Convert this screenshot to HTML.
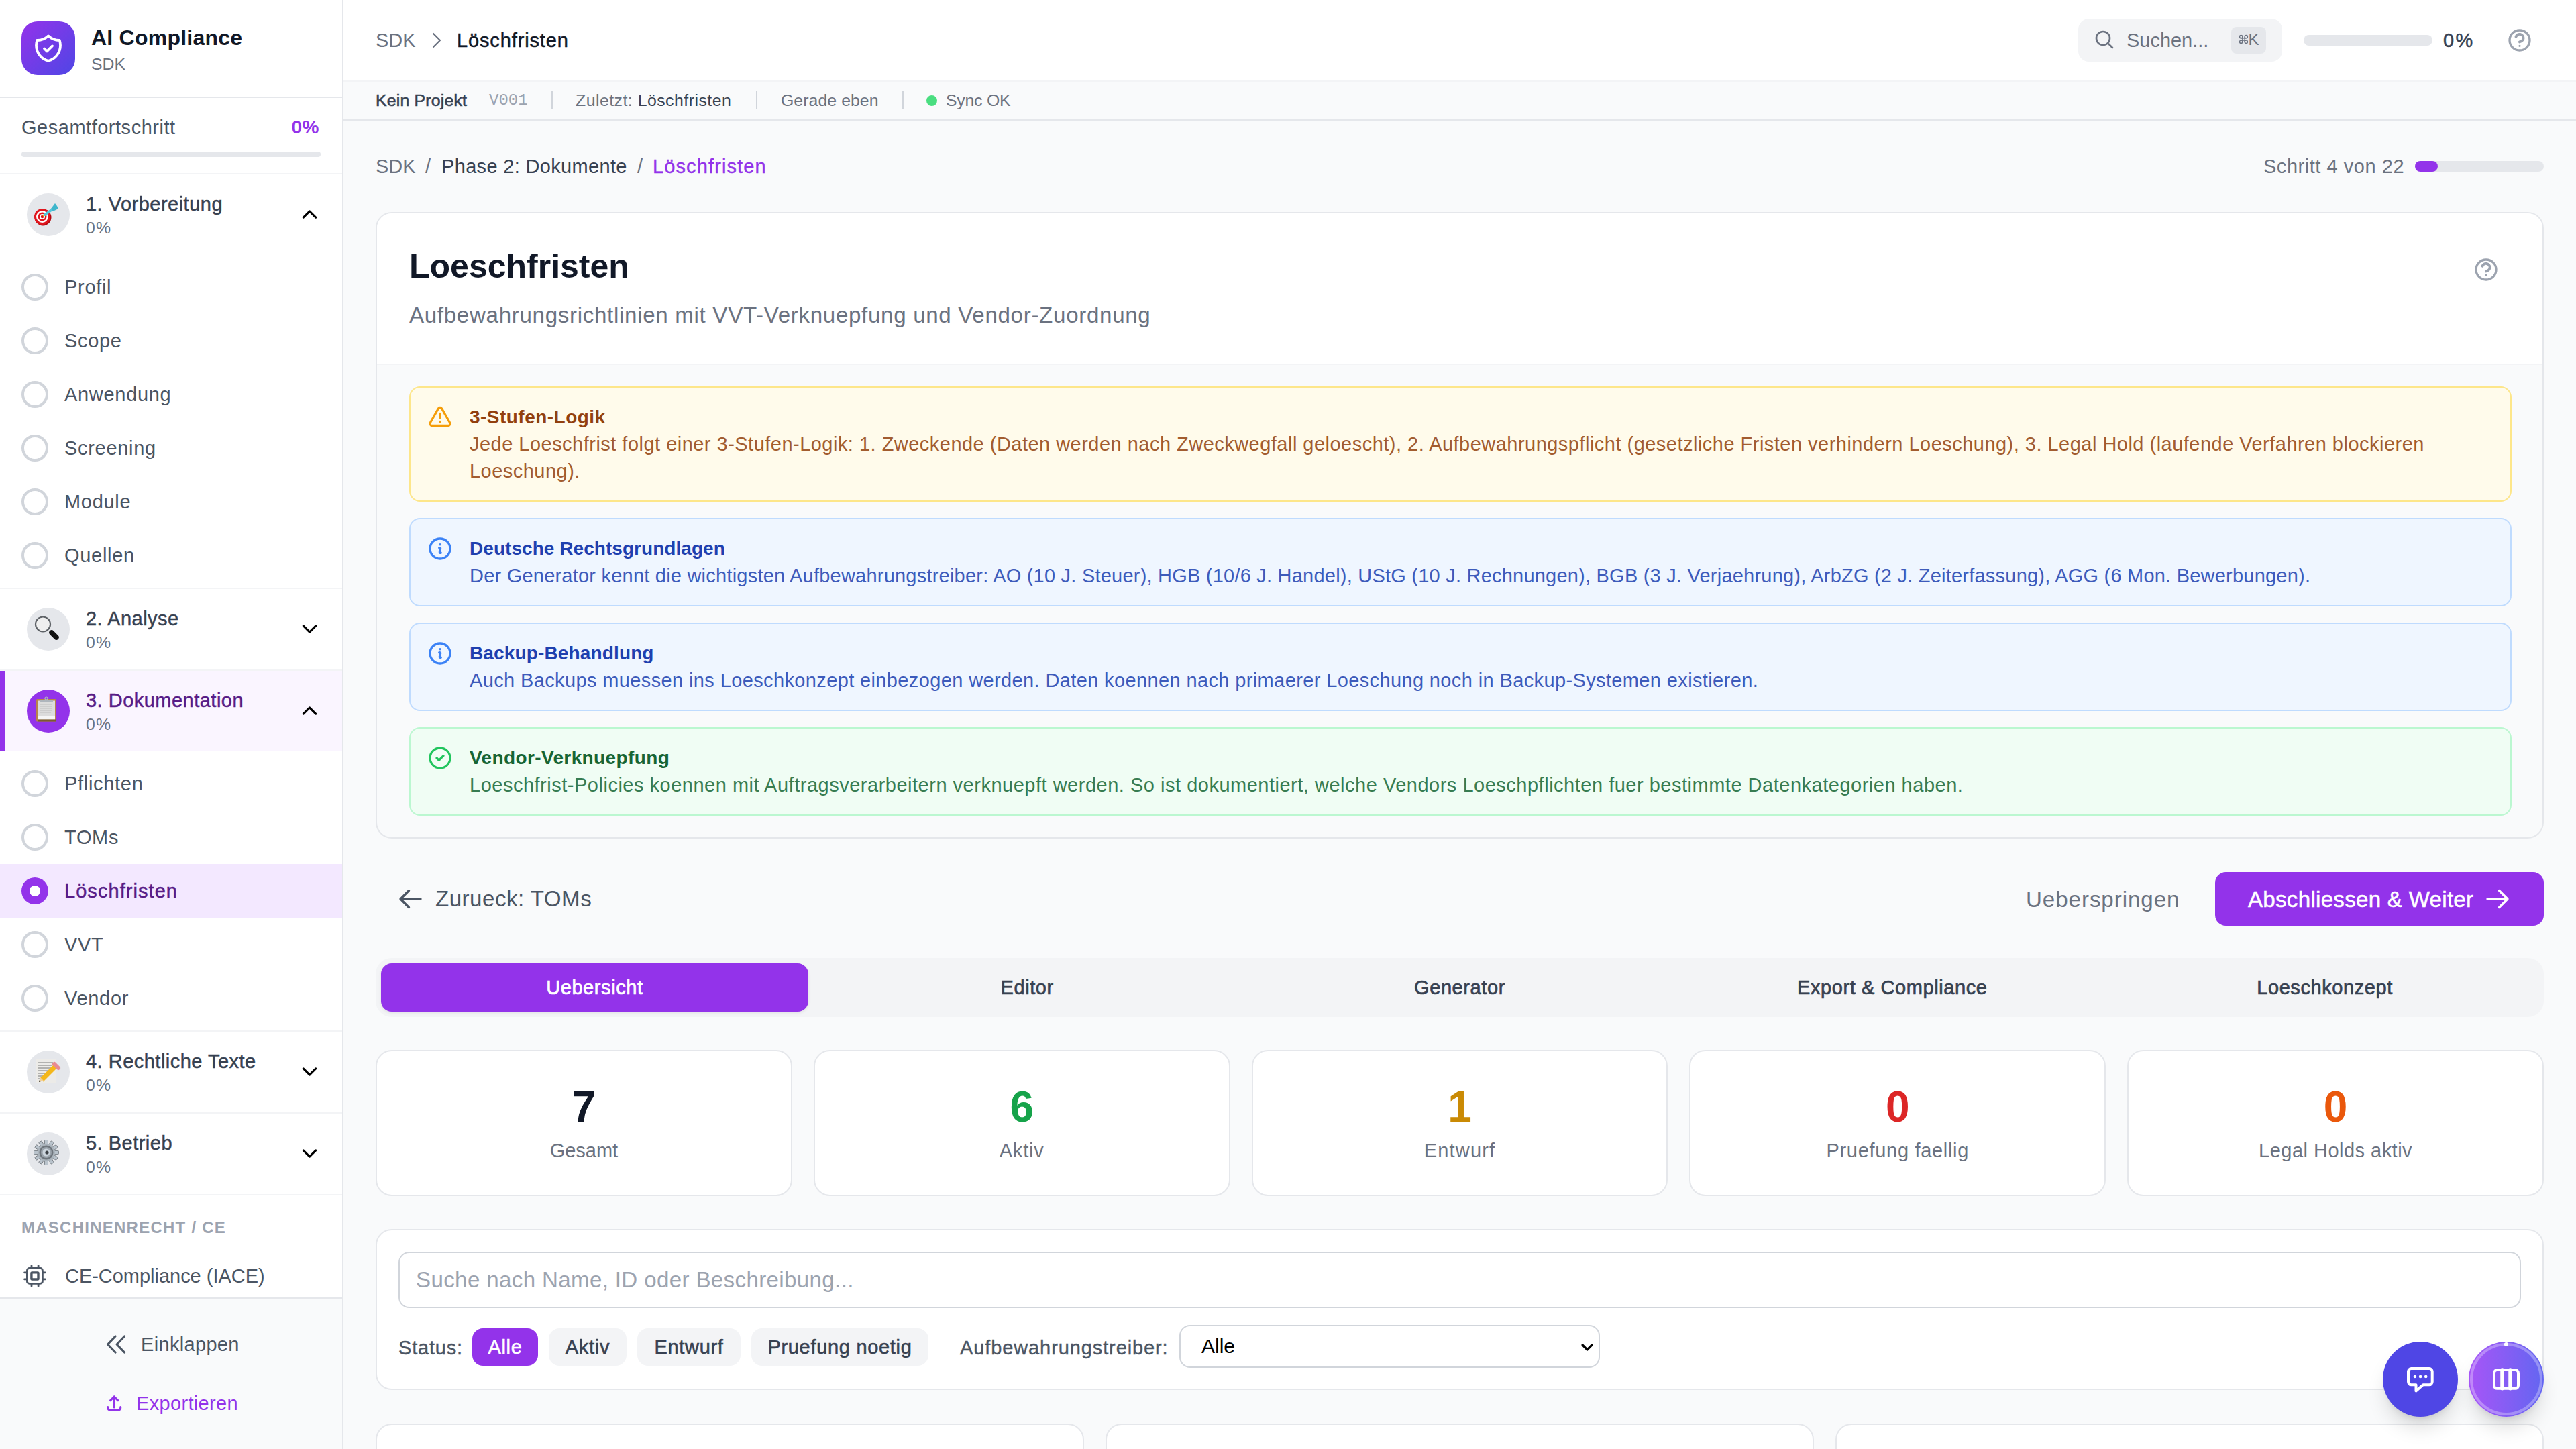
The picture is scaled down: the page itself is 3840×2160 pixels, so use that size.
<!DOCTYPE html>
<html lang="de">
<head>
<meta charset="utf-8">
<title>Loeschfristen</title>
<style>
*{box-sizing:border-box;margin:0;padding:0}
html,body{width:3840px;height:2160px;overflow:hidden}
@media (max-width:2500px){html{zoom:0.5}}
body{font-family:"Liberation Sans",sans-serif;background:#f9fafb;color:#111827;position:relative;letter-spacing:0.03em}
.abs{position:absolute}
svg{display:block}
.t{position:absolute;white-space:nowrap}
/* sidebar */
#sb{position:absolute;left:0;top:0;width:512px;height:2160px;background:#fff;border-right:2px solid #e5e7eb}
.hl{position:absolute;left:0;width:510px;height:2px;background:#f3f4f6}
.sec-ic{position:absolute;left:40px;width:64px;height:64px;border-radius:50%;background:#e5e7eb}
.sec-t{position:absolute;left:128px;font-size:28.98px;line-height:40px;color:#374151;white-space:nowrap;letter-spacing:0.5px;-webkit-text-stroke:0.5px currentColor}
.sec-p{position:absolute;left:128px;font-size:24.84px;line-height:32px;color:#6b7280;white-space:nowrap;letter-spacing:1.08px}
.chev{position:absolute;left:443px;width:37px;height:37px}
.sub{position:absolute;left:0;width:510px;height:80px}
.sub .c{position:absolute;left:32px;top:20px;width:40px;height:40px;border-radius:50%;border:4px solid #d1d5db}
.sub .l{position:absolute;left:96px;top:20px;font-size:28.98px;line-height:40px;color:#4b5563;white-space:nowrap;letter-spacing:0.71px}
/* main */
#hdr{position:absolute;left:512px;top:0;width:3328px;height:122px;background:#fff;border-bottom:2px solid #f3f4f6}
#stb{position:absolute;left:512px;top:122px;width:3328px;height:58px;background:#f9fafb;border-bottom:2px solid #e5e7eb}

.alert{position:absolute;left:48px;width:3134px;border:2px solid;border-radius:16px}
.alert .ic{position:absolute;left:24px;top:24px;width:40px;height:40px}
.alert .ic.tri{left:26px;top:24.5px;width:36px;height:36px}
.alert .at{position:absolute;left:88px;top:24px;font-size:28px;line-height:40px;white-space:nowrap;font-weight:700;letter-spacing:0.2px}
.alert .ab{position:absolute;left:88px;top:64px;font-size:28.98px;line-height:40px;white-space:nowrap;letter-spacing:-0.01px}

.tab{position:absolute;top:8px;width:636.8px;height:72px;border-radius:16px;text-align:center;font-size:28.98px;line-height:72px;color:#374151;letter-spacing:0.6px;-webkit-text-stroke:0.7px currentColor}
.tab.act{background:#9333ea;color:#fff;box-shadow:0 2px 4px rgba(0,0,0,0.08)}
.stat{position:absolute;top:1385px;width:620.8px;height:218px;border:2px solid #e5e7eb;border-radius:24px;background:#fff;text-align:center}
.sn{position:absolute;left:0;right:0;top:47px;font-size:64px;line-height:72px;font-weight:700;letter-spacing:0}
.sl{position:absolute;left:0;right:0;top:128px;font-size:28.98px;line-height:40px;color:#6b7280;letter-spacing:-0.01px}
.pill{position:absolute;top:146px;height:56px;border-radius:16px;background:#f3f4f6;color:#374151;font-size:28.98px;line-height:56px;text-align:center;letter-spacing:0.71px;-webkit-text-stroke:0.6px currentColor}
</style>
</head>
<body>
<!-- SIDEBAR -->
<div id="sb">
  <div class="abs" style="left:32px;top:32px;width:80px;height:80px;border-radius:24px;background:linear-gradient(135deg,#9333ea,#4f46e5)">
    <svg class="abs" style="left:16px;top:16px" width="48" height="48" viewBox="0 0 24 24" fill="none" stroke="#fff" stroke-width="1.9" stroke-linecap="round" stroke-linejoin="round"><path d="m9 12.2 2 2 4-4"/><path d="M12 2.714A11.959 11.959 0 0 1 3.598 6 11.99 11.99 0 0 0 3 9.749c0 5.592 3.824 10.29 9 11.623 5.176-1.332 9-6.03 9-11.622 0-1.31-.21-2.571-.598-3.751h-.152c-3.196 0-6.1-1.248-8.25-3.285Z"/></svg>
  </div>
  <div class="t" style="left:136px;top:32px;font-size:32px;line-height:48px;font-weight:700;color:#111827;letter-spacing:0.23px">AI Compliance</div>
  <div class="t" style="left:136px;top:80px;font-size:24.84px;line-height:32px;color:#6b7280;letter-spacing:0.06px">SDK</div>
  <div class="hl" style="top:144px;background:#e5e7eb"></div>

  <div class="t" style="left:32px;top:170px;font-size:28.98px;line-height:40px;color:#4b5563;letter-spacing:0.535px">Gesamtfortschritt</div>
  <div class="t" style="right:34px;top:170px;font-size:28px;line-height:40px;color:#9333ea;font-weight:700">0%</div>
  <div class="abs" style="left:32px;top:226px;width:446px;height:8px;border-radius:4px;background:#e5e7eb"></div>
  <div class="hl" style="top:258px"></div>

  <!-- section 1 -->
  <div class="sec-ic" style="top:288px"><svg class="abs" style="left:0;top:0" width="64" height="64" viewBox="0 0 64 64"><ellipse cx="24" cy="36" rx="12.5" ry="12.5" fill="#b3080f"/><ellipse cx="23" cy="35" rx="12" ry="12" fill="#e0161e"/><circle cx="23" cy="35" r="9" fill="#fff"/><circle cx="23" cy="35" r="6.5" fill="#e0161e"/><circle cx="23" cy="35" r="4" fill="#fff"/><circle cx="23" cy="35" r="2.2" fill="#d0101a"/><path d="M24 34 L38 24" stroke="#f2c200" stroke-width="2"/><path d="M27 32 L38 24" stroke="#52c8dc" stroke-width="4" stroke-linecap="round"/><path d="M36 23 L42 15 L45 19 L47 23 L39 27 Z" fill="#3fb6cc"/></svg></div>
  <div class="sec-t" style="top:284px">1. Vorbereitung</div>
  <div class="sec-p" style="top:324px">0%</div>
  <svg class="chev" style="top:301px" viewBox="0 0 24 24" fill="none" stroke="#000" stroke-width="2" stroke-linecap="round" stroke-linejoin="round"><path d="m18 15-6-6-6 6"/></svg>
  <div class="sub" style="top:388px"><div class="c"></div><div class="l">Profil</div></div>
  <div class="sub" style="top:468px"><div class="c"></div><div class="l">Scope</div></div>
  <div class="sub" style="top:548px"><div class="c"></div><div class="l">Anwendung</div></div>
  <div class="sub" style="top:628px"><div class="c"></div><div class="l">Screening</div></div>
  <div class="sub" style="top:708px"><div class="c"></div><div class="l">Module</div></div>
  <div class="sub" style="top:788px"><div class="c"></div><div class="l">Quellen</div></div>
  <div class="hl" style="top:876px"></div>

  <!-- section 2 -->
  <div class="sec-ic" style="top:906px"><svg class="abs" style="left:0;top:0" width="64" height="64" viewBox="0 0 64 64"><circle cx="24" cy="24.5" r="11" fill="#efefef" stroke="#5f6368" stroke-width="2.2"/><path d="M37 37 L44 44" stroke="#111" stroke-width="7.5" stroke-linecap="round"/></svg></div>
  <div class="sec-t" style="top:902px">2. Analyse</div>
  <div class="sec-p" style="top:942px">0%</div>
  <svg class="chev" style="top:919px" viewBox="0 0 24 24" fill="none" stroke="#000" stroke-width="2" stroke-linecap="round" stroke-linejoin="round"><path d="m6 9 6 6 6-6"/></svg>
  <div class="hl" style="top:998px"></div>

  <!-- section 3 active -->
  <div class="abs" style="left:0;top:1000px;width:510px;height:120px;background:#faf5ff"></div>
  <div class="abs" style="left:0;top:1000px;width:8px;height:120px;background:#9333ea"></div>
  <div class="sec-ic" style="top:1028px;background:#9333ea"><svg class="abs" style="left:0;top:0" width="64" height="64" viewBox="0 0 64 64"><rect x="14" y="14" width="30" height="33.5" rx="1.5" fill="#b7834a"/><rect x="16" y="16.5" width="26" height="28" fill="#dcdcdc"/><rect x="16" y="40" width="26" height="4.5" fill="#f5f5f5"/><rect x="16" y="44.5" width="28" height="3" fill="#7a5a30"/><path d="M19 15 h20 v3 h-20z" fill="#aeb5bc"/><circle cx="29" cy="13" r="2" fill="none" stroke="#aeb5bc" stroke-width="1.2"/><path d="M19 22h19M19 25h19M19 28h19M19 31h18M19 34h17" stroke="#bdbdbd" stroke-width="1.2"/></svg></div>
  <div class="sec-t" style="top:1024px;color:#581c87">3. Dokumentation</div>
  <div class="sec-p" style="top:1064px">0%</div>
  <svg class="chev" style="top:1041px" viewBox="0 0 24 24" fill="none" stroke="#000" stroke-width="2" stroke-linecap="round" stroke-linejoin="round"><path d="m18 15-6-6-6 6"/></svg>
  <div class="sub" style="top:1128px"><div class="c"></div><div class="l">Pflichten</div></div>
  <div class="sub" style="top:1208px"><div class="c"></div><div class="l">TOMs</div></div>
  <div class="sub" style="top:1288px;background:#f3e8ff"><div class="c" style="border:none;background:#9333ea"><div class="abs" style="left:12px;top:12px;width:16px;height:16px;border-radius:50%;background:#fff"></div></div><div class="l" style="color:#581c87;-webkit-text-stroke:0.5px currentColor;letter-spacing:1.07px">Löschfristen</div></div>
  <div class="sub" style="top:1368px"><div class="c"></div><div class="l">VVT</div></div>
  <div class="sub" style="top:1448px"><div class="c"></div><div class="l">Vendor</div></div>
  <div class="hl" style="top:1536px"></div>

  <!-- section 4 -->
  <div class="sec-ic" style="top:1566px"><svg class="abs" style="left:0;top:0" width="64" height="64" viewBox="0 0 64 64"><rect x="14" y="13" width="30" height="35" fill="#ecebe8"/><path d="M17 18h22M17 22h20M17 26h19M17 30h16M17 34h14M17 38h12M17 42h10" stroke="#6b6b6b" stroke-width="0.9"/><path d="M22 44 L43 23" stroke="#f4b71a" stroke-width="7"/><path d="M41 20 L47 26" stroke="#e88a92" stroke-width="6" stroke-linecap="round"/><path d="M18 47 L20 40 L25 45 Z" fill="#f1cf98"/><path d="M18 47 L18.8 44.3 L20.8 46 Z" fill="#222"/></svg></div>
  <div class="sec-t" style="top:1562px">4. Rechtliche Texte</div>
  <div class="sec-p" style="top:1602px">0%</div>
  <svg class="chev" style="top:1579px" viewBox="0 0 24 24" fill="none" stroke="#000" stroke-width="2" stroke-linecap="round" stroke-linejoin="round"><path d="m6 9 6 6 6-6"/></svg>
  <div class="hl" style="top:1658px"></div>

  <!-- section 5 -->
  <div class="sec-ic" style="top:1688px"><svg class="abs" style="left:0;top:0" width="64" height="64" viewBox="0 0 64 64"><g fill="#b9c3cc" stroke="#70767c" stroke-width="0.8"><rect x="26.5" y="11.5" width="5" height="7" rx="1" transform="rotate(0 29 30)"/><rect x="26.5" y="11.5" width="5" height="7" rx="1" transform="rotate(30 29 30)"/><rect x="26.5" y="11.5" width="5" height="7" rx="1" transform="rotate(60 29 30)"/><rect x="26.5" y="11.5" width="5" height="7" rx="1" transform="rotate(90 29 30)"/><rect x="26.5" y="11.5" width="5" height="7" rx="1" transform="rotate(120 29 30)"/><rect x="26.5" y="11.5" width="5" height="7" rx="1" transform="rotate(150 29 30)"/><rect x="26.5" y="11.5" width="5" height="7" rx="1" transform="rotate(180 29 30)"/><rect x="26.5" y="11.5" width="5" height="7" rx="1" transform="rotate(210 29 30)"/><rect x="26.5" y="11.5" width="5" height="7" rx="1" transform="rotate(240 29 30)"/><rect x="26.5" y="11.5" width="5" height="7" rx="1" transform="rotate(270 29 30)"/><rect x="26.5" y="11.5" width="5" height="7" rx="1" transform="rotate(300 29 30)"/><rect x="26.5" y="11.5" width="5" height="7" rx="1" transform="rotate(330 29 30)"/></g><circle cx="29" cy="30" r="13" fill="#aab3bb"/><circle cx="29" cy="30" r="10.5" fill="#6e757c"/><circle cx="29" cy="30" r="8" fill="#9aa3ab"/><circle cx="29" cy="30" r="5.5" fill="#cbd4dc"/><circle cx="30" cy="30" r="2.6" fill="#3a3f44"/></svg></div>
  <div class="sec-t" style="top:1684px">5. Betrieb</div>
  <div class="sec-p" style="top:1724px">0%</div>
  <svg class="chev" style="top:1701px" viewBox="0 0 24 24" fill="none" stroke="#000" stroke-width="2" stroke-linecap="round" stroke-linejoin="round"><path d="m6 9 6 6 6-6"/></svg>
  <div class="hl" style="top:1780px"></div>

  <div class="t" style="left:32px;top:1814px;font-size:24px;line-height:32px;color:#9ca3af;font-weight:700;letter-spacing:1.25px">MASCHINENRECHT / CE</div>
  <svg class="abs" style="left:25px;top:1875px" width="60" height="55" viewBox="25 1875 60 55" fill="none" stroke="#4b5563" stroke-width="2.8" stroke-linecap="round" stroke-linejoin="round"><rect x="40.4" y="1890.4" width="23" height="23" rx="3.5"/><rect x="46.9" y="1896.9" width="10.1" height="10.1" rx="1" stroke-width="3.4"/><path d="M47 1886.6v3.8M57.1 1886.6v3.8M47 1913.5v3.8M57.1 1913.5v3.8M36.6 1896.8h3.8M36.6 1906.9h3.8M63.5 1896.8h3.8M63.5 1906.9h3.8"/></svg>
  <div class="t" style="left:97px;top:1882px;font-size:28.98px;line-height:40px;color:#4b5563;letter-spacing:-0.01px">CE-Compliance (IACE)</div>

  <div class="abs" style="left:0;top:1934px;width:510px;height:226px;background:#f9fafb;border-top:2px solid #e5e7eb"></div>
  <svg class="abs" style="left:150px;top:1980px" width="50" height="40" viewBox="150 1980 50 40" fill="none" stroke="#4b5563" stroke-width="3.2" stroke-linecap="round" stroke-linejoin="round"><path d="M172 1992 L160.6 2004 L172 2016"/><path d="M185.5 1992 L174.1 2004 L185.5 2016"/></svg>
  <div class="t" style="left:210px;top:1984px;font-size:28.98px;line-height:40px;color:#4b5563;letter-spacing:0.34px">Einklappen</div>
  <svg class="abs" style="left:150px;top:2070px" width="40" height="40" viewBox="150 2070 40 40" fill="none" stroke="#9333ea" stroke-width="3.1" stroke-linecap="round" stroke-linejoin="round"><path d="M160.8 2097.5 v1.5 a3.2 3.2 0 0 0 3.2 3.2 h12.5 a3.2 3.2 0 0 0 3.2 -3.2 v-1.5"/><path d="M170.2 2082 v16"/><path d="M164.6 2087.6 L170.2 2082 L175.8 2087.6"/></svg>
  <div class="t" style="left:203px;top:2072px;font-size:28.98px;line-height:40px;color:#9333ea;letter-spacing:0.34px">Exportieren</div>
</div>

<!-- HEADER -->
<div id="hdr">
  <div class="t" style="left:48px;top:40px;font-size:28.98px;line-height:40px;color:#6b7280;letter-spacing:-0.01px">SDK</div>
  <svg class="abs" style="left:122.5px;top:44px" width="32" height="32" viewBox="0 0 24 24" fill="none" stroke="#6b7280" stroke-width="1.6" stroke-linecap="round" stroke-linejoin="round"><path d="m8.25 4.5 7.5 7.5-7.5 7.5"/></svg>
  <div class="t" style="left:169px;top:40px;font-size:28.98px;line-height:40px;color:#111827;letter-spacing:0.88px;-webkit-text-stroke:0.5px currentColor">Löschfristen</div>
  <div class="abs" style="left:2586px;top:28px;width:304px;height:64px;border-radius:16px;background:#f3f4f6">
    <svg class="abs" style="left:23.3px;top:15.3px" width="32" height="32" viewBox="0 0 24 24" fill="none" stroke="#6b7280" stroke-width="2" stroke-linecap="round" stroke-linejoin="round"><path d="m21 21-5.197-5.197m0 0A7.5 7.5 0 1 0 5.196 5.196a7.5 7.5 0 0 0 10.607 10.607Z"/></svg>
    <div class="t" style="left:72px;top:12px;font-size:28.98px;line-height:40px;color:#6b7280;letter-spacing:-0.01px">Suchen...</div>
    <div class="abs" style="left:228px;top:12px;width:52px;height:40px;border-radius:8px;background:#e5e7eb"></div>
    <svg class="abs" style="left:0;top:0" width="300" height="64" viewBox="0 0 300 64" fill="none" stroke="#6b7280" stroke-width="1.4"><path d="M242.70 28.85H250.30M242.70 32.15H250.30M244.85 26.70V34.30M248.15 26.70V34.30"/><circle cx="242.70" cy="26.70" r="2.15"/><circle cx="242.70" cy="34.30" r="2.15"/><circle cx="250.30" cy="26.70" r="2.15"/><circle cx="250.30" cy="34.30" r="2.15"/></svg><div class="t" style="left:253.5px;top:15px;font-size:24px;line-height:32px;color:#6b7280;letter-spacing:0">K</div>
  </div>
  <div class="abs" style="left:2922px;top:52px;width:192px;height:16px;border-radius:8px;background:#e5e7eb"></div>
  <div class="t" style="left:3130px;top:40px;font-size:28.98px;line-height:40px;color:#374151;letter-spacing:2.51px;-webkit-text-stroke:0.5px currentColor">0%</div>
  <svg class="abs" style="left:3224px;top:40px" width="40" height="40" viewBox="0 0 24 24" fill="none" stroke="#9ca3af" stroke-width="2" stroke-linecap="round" stroke-linejoin="round"><circle cx="12" cy="12" r="9"/><path transform="translate(12 10) scale(1.15) translate(-12 -10)" d="M9.09 9a3 3 0 0 1 5.83 1c0 2-3 3-3 3"/><path d="M12 17h.01"/></svg>
</div>
<div id="stb">
  <div class="t" style="left:48px;top:12px;font-size:24.84px;line-height:32px;color:#374151;letter-spacing:0.19px;-webkit-text-stroke:0.6px currentColor">Kein Projekt</div>
  <div class="t" style="left:217px;top:12px;font-size:24px;line-height:32px;color:#9ca3af;font-family:'Liberation Mono',monospace;letter-spacing:0">V001</div>
  <div class="abs" style="left:310px;top:13px;width:2px;height:28px;background:#d1d5db"></div>
  <div class="t" style="left:346px;top:12px;font-size:24.84px;line-height:32px;color:#6b7280;letter-spacing:0.48px">Zuletzt: <span style="color:#374151">Löschfristen</span></div>
  <div class="abs" style="left:615px;top:13px;width:2px;height:28px;background:#d1d5db"></div>
  <div class="t" style="left:652px;top:12px;font-size:24.84px;line-height:32px;color:#6b7280;letter-spacing:0.06px">Gerade eben</div>
  <div class="abs" style="left:833px;top:13px;width:2px;height:28px;background:#d1d5db"></div>
  <div class="abs" style="left:869px;top:20px;width:16px;height:16px;border-radius:50%;background:#4ade80"></div>
  <div class="t" style="left:898px;top:12px;font-size:24.84px;line-height:32px;color:#6b7280;letter-spacing:-0.228px">Sync OK</div>
</div>

<!-- MAIN -->
<div id="main" class="abs" style="left:512px;top:180px;width:3328px;height:1980px">
  <div class="t" style="left:48px;top:48px;font-size:28.98px;line-height:40px;color:#6b7280;letter-spacing:-0.01px">SDK</div>
  <div class="t" style="left:122px;top:48px;font-size:28.98px;line-height:40px;color:#6b7280;letter-spacing:-0.01px">/</div>
  <div class="t" style="left:146px;top:48px;font-size:28.98px;line-height:40px;color:#374151;letter-spacing:0.347px">Phase 2: Dokumente</div>
  <div class="t" style="left:438px;top:48px;font-size:28.98px;line-height:40px;color:#6b7280;letter-spacing:-0.01px">/</div>
  <div class="t" style="left:461px;top:48px;font-size:28.98px;line-height:40px;color:#9333ea;letter-spacing:1.13px;-webkit-text-stroke:0.4px currentColor">Löschfristen</div>
  <div class="t" style="left:2862px;top:48px;font-size:28.98px;line-height:40px;color:#6b7280;letter-spacing:0.547px">Schritt 4 von 22</div>
  <div class="abs" style="left:3088px;top:60px;width:192px;height:16px;border-radius:8px;background:#e5e7eb"><div class="abs" style="left:0;top:0;width:34px;height:16px;border-radius:8px;background:#9333ea"></div></div>

  <!-- main card: x 48..3280 (3232), y 136..1070 -->
  <div class="abs" style="left:48px;top:136px;width:3232px;height:934px;border:2px solid #e5e7eb;border-radius:24px;background:#f9fafb;overflow:hidden">
    <div class="abs" style="left:0;top:0;width:3228px;height:226px;background:#fff;border-bottom:2px solid #f3f4f6">
      <div class="t" style="left:48px;top:47.3px;font-size:50px;line-height:64px;font-weight:700;color:#111827;letter-spacing:0px">Loeschfristen</div>
      <div class="t" style="left:48px;top:128px;font-size:33.12px;line-height:48px;color:#6b7280;letter-spacing:0.686px">Aufbewahrungsrichtlinien mit VVT-Verknuepfung und Vendor-Zuordnung</div>
      <svg class="abs" style="left:3124px;top:64px" width="40" height="40" viewBox="0 0 24 24" fill="none" stroke="#9ca3af" stroke-width="2" stroke-linecap="round" stroke-linejoin="round"><circle cx="12" cy="12" r="9"/><path transform="translate(12 10) scale(1.15) translate(-12 -10)" d="M9.09 9a3 3 0 0 1 5.83 1c0 2-3 3-3 3"/><path d="M12 17h.01"/></svg>
    </div>
    <!-- alerts: left 48 (abs x 610), width 3134 -->
    <div class="alert" style="top:258px;height:172px;background:#fffbeb;border-color:#fde68a">
      <svg class="ic tri" viewBox="0 0 24 24" fill="none" stroke="#f59e0b" stroke-width="2.2" stroke-linecap="round" stroke-linejoin="round"><path d="m21.73 18-8-14a2 2 0 0 0-3.48 0l-8 14A2 2 0 0 0 4 21h16a2 2 0 0 0 1.73-3"/><path d="M12 9v4"/><path d="M12 17h.01"/></svg>
      <div class="at" style="color:#92400e;letter-spacing:0.47px">3-Stufen-Logik</div>
      <div class="ab" style="color:#a25c2f;letter-spacing:0.493px">Jede Loeschfrist folgt einer 3-Stufen-Logik: 1. Zweckende (Daten werden nach Zweckwegfall geloescht), 2. Aufbewahrungspflicht (gesetzliche Fristen verhindern Loeschung), 3. Legal Hold (laufende Verfahren blockieren<br>Loeschung).</div>
    </div>
    <div class="alert" style="top:454px;height:132px;background:#eff6ff;border-color:#bfdbfe">
      <svg class="ic" viewBox="0 0 24 24" fill="none" stroke="#3b82f6" stroke-width="2" stroke-linecap="round" stroke-linejoin="round"><path d="m11.25 11.25.041-.02a.75.75 0 0 1 1.063.852l-.708 2.836a.75.75 0 0 0 1.063.853l.041-.021M21 12a9 9 0 1 1-18 0 9 9 0 0 1 18 0Zm-9-3.75h.008v.008H12V8.25Z"/></svg>
      <div class="at" style="color:#1e40af;letter-spacing:0.05px">Deutsche Rechtsgrundlagen</div>
      <div class="ab" style="color:#3d5bbb;letter-spacing:0.235px">Der Generator kennt die wichtigsten Aufbewahrungstreiber: AO (10 J. Steuer), HGB (10/6 J. Handel), UStG (10 J. Rechnungen), BGB (3 J. Verjaehrung), ArbZG (2 J. Zeiterfassung), AGG (6 Mon. Bewerbungen).</div>
    </div>
    <div class="alert" style="top:610px;height:132px;background:#eff6ff;border-color:#bfdbfe">
      <svg class="ic" viewBox="0 0 24 24" fill="none" stroke="#3b82f6" stroke-width="2" stroke-linecap="round" stroke-linejoin="round"><path d="m11.25 11.25.041-.02a.75.75 0 0 1 1.063.852l-.708 2.836a.75.75 0 0 0 1.063.853l.041-.021M21 12a9 9 0 1 1-18 0 9 9 0 0 1 18 0Zm-9-3.75h.008v.008H12V8.25Z"/></svg>
      <div class="at" style="color:#1e40af;letter-spacing:0.14px">Backup-Behandlung</div>
      <div class="ab" style="color:#3d5bbb;letter-spacing:0.39px">Auch Backups muessen ins Loeschkonzept einbezogen werden. Daten koennen nach primaerer Loeschung noch in Backup-Systemen existieren.</div>
    </div>
    <div class="alert" style="top:766px;height:132px;background:#f0fdf4;border-color:#bbf7d0">
      <svg class="ic" viewBox="0 0 24 24" fill="none" stroke="#22c55e" stroke-width="2" stroke-linecap="round" stroke-linejoin="round"><circle cx="12" cy="12" r="9"/><path d="m9 12 2 2 4-4"/></svg>
      <div class="at" style="color:#166534;letter-spacing:0.38px">Vendor-Verknuepfung</div>
      <div class="ab" style="color:#377c51;letter-spacing:0.523px">Loeschfrist-Policies koennen mit Auftragsverarbeitern verknuepft werden. So ist dokumentiert, welche Vendors Loeschpflichten fuer bestimmte Datenkategorien haben.</div>
    </div>
  </div>

  <!-- nav row -->
  <svg class="abs" style="left:79.7px;top:1140px" width="40" height="40" viewBox="0 0 24 24" fill="none" stroke="#4b5563" stroke-width="2" stroke-linecap="round" stroke-linejoin="round"><path d="M10.5 19.5 3 12m0 0 7.5-7.5M3 12h18"/></svg>
  <div class="t" style="left:137px;top:1136px;font-size:33.12px;line-height:48px;color:#4b5563;letter-spacing:0.483px">Zurueck: TOMs</div>
  <div class="t" style="left:2508px;top:1137px;font-size:33.12px;line-height:48px;color:#6b7280;letter-spacing:0.94px">Ueberspringen</div>
  <div class="abs" style="left:2790px;top:1120px;width:490px;height:80px;border-radius:16px;background:#9333ea">
    <div class="t" style="left:49px;top:17px;font-size:33.12px;line-height:48px;color:#fff;letter-spacing:0.272px;-webkit-text-stroke:0.5px #fff">Abschliessen &amp; Weiter</div>
    <svg class="abs" style="left:400.7px;top:20px" width="40" height="40" viewBox="0 0 24 24" fill="none" stroke="#fff" stroke-width="2" stroke-linecap="round" stroke-linejoin="round"><path d="M13.5 4.5 21 12m0 0-7.5 7.5M21 12H3"/></svg>
  </div>
  <!-- tabs -->
  <div class="abs" style="left:48px;top:1248px;width:3232px;height:88px;border-radius:24px;background:#f3f4f6">
    <div class="tab act" style="left:8px">Uebersicht</div>
    <div class="tab" style="left:652.8px">Editor</div>
    <div class="tab" style="left:1297.6px">Generator</div>
    <div class="tab" style="left:1942.4px">Export &amp; Compliance</div>
    <div class="tab" style="left:2587.2px">Loeschkonzept</div>
  </div>
  <!-- stats -->
  <div class="stat" style="left:48.0px"><div class="sn" style="color:#111827">7</div><div class="sl">Gesamt</div></div>
  <div class="stat" style="left:700.8px"><div class="sn" style="color:#16a34a">6</div><div class="sl" style="letter-spacing:0.85px">Aktiv</div></div>
  <div class="stat" style="left:1353.6px"><div class="sn" style="color:#ca8a04">1</div><div class="sl" style="letter-spacing:1.197px">Entwurf</div></div>
  <div class="stat" style="left:2006.4px"><div class="sn" style="color:#dc2626">0</div><div class="sl" style="letter-spacing:0.703px">Pruefung faellig</div></div>
  <div class="stat" style="left:2659.2px"><div class="sn" style="color:#ea580c">0</div><div class="sl" style="letter-spacing:0.49px">Legal Holds aktiv</div></div>

  <!-- filter card -->
  <div class="abs" style="left:48px;top:1652px;width:3232px;height:240px;border:2px solid #e5e7eb;border-radius:24px;background:#fff">
    <div class="abs" style="left:32px;top:32px;width:3164px;height:84px;border:2px solid #d1d5db;border-radius:16px;background:#fff">
      <div class="t" style="left:24px;top:16px;font-size:33.12px;line-height:48px;color:#9ca3af;letter-spacing:0.353px">Suche nach Name, ID oder Beschreibung...</div>
    </div>
    <div class="t" style="left:32px;top:155px;font-size:28.98px;line-height:40px;color:#4b5563;letter-spacing:0.81px;-webkit-text-stroke:0.4px currentColor">Status:</div>
    <div class="pill" style="left:142px;width:98px;background:#9333ea;color:#fff">Alle</div>
    <div class="pill" style="left:256px;width:116px">Aktiv</div>
    <div class="pill" style="left:388px;width:154px">Entwurf</div>
    <div class="pill" style="left:558px;width:264px">Pruefung noetig</div>
    <div class="t" style="left:869px;top:155px;font-size:28.98px;line-height:40px;color:#4b5563;letter-spacing:0.91px;-webkit-text-stroke:0.4px currentColor">Aufbewahrungstreiber:</div>
    <div class="abs" style="left:1196px;top:141px;width:627px;height:64px;border:2px solid #d1d5db;border-radius:16px;background:#fff">
      <div class="t" style="left:31px;top:8px;font-size:30px;line-height:44px;color:#000;letter-spacing:0">Alle</div>
      <svg class="abs" style="left:594px;top:20px" width="24" height="24" viewBox="0 0 24 24" fill="none" stroke="#000" stroke-width="3.2" stroke-linecap="round" stroke-linejoin="round"><path d="m5 8 7 7 7-7"/></svg>
    </div>
  </div>
  <!-- bottom cards -->
  <div class="abs" style="left:48px;top:1942px;width:1056px;height:200px;border:2px solid #e5e7eb;border-radius:24px;background:#fff"></div>
  <div class="abs" style="left:1136px;top:1942px;width:1056px;height:200px;border:2px solid #e5e7eb;border-radius:24px;background:#fff"></div>
  <div class="abs" style="left:2224px;top:1942px;width:1056px;height:200px;border:2px solid #e5e7eb;border-radius:24px;background:#fff"></div>
</div>

<!-- floating buttons -->
<div class="abs" style="left:3552px;top:2000px;width:112px;height:112px;border-radius:50%;background:#4f46e5;box-shadow:0 20px 30px -6px rgba(0,0,0,0.15),0 8px 12px -8px rgba(0,0,0,0.15)">
  <svg class="abs" style="left:0;top:0" width="112" height="112" viewBox="3552 2000 112 112" fill="none" stroke="#fff" stroke-width="4" stroke-linecap="round" stroke-linejoin="round"><path d="M3594.5 2040 H3621.2 A4.5 4.5 0 0 1 3625.7 2044.5 V2059.8 A4.5 4.5 0 0 1 3621.2 2064.3 H3612 L3601.5 2073.5 V2064.3 H3594.5 A4.5 4.5 0 0 1 3590 2059.8 V2044.5 A4.5 4.5 0 0 1 3594.5 2040 Z"/><g fill="#fff" stroke="none"><circle cx="3599.9" cy="2052" r="2.3"/><circle cx="3608.1" cy="2052" r="2.3"/><circle cx="3616.2" cy="2052" r="2.3"/></g></svg>
</div>
<div class="abs" style="left:3680px;top:2000px;width:112px;height:112px;border-radius:50%;background:linear-gradient(90deg,#a855f7,#6366f1);box-shadow:0 20px 30px -6px rgba(0,0,0,0.15),0 8px 12px -8px rgba(0,0,0,0.15)">
  <div class="abs" style="left:2px;top:2px;width:108px;height:108px;border-radius:50%;border:4px solid rgba(255,255,255,0.3)"></div>
  <div class="abs" style="left:53.2px;top:1.2px;width:5.5px;height:5.5px;border-radius:50%;background:#fff"></div>
  <svg class="abs" style="left:0;top:0" width="112" height="112" viewBox="3680 2000 112 112" fill="none" stroke="#fff" stroke-width="4" stroke-linecap="round" stroke-linejoin="round"><rect x="3718" y="2042" width="36" height="27.8" rx="4.5"/><path d="M3730 2042V2069.8M3742 2042V2069.8" stroke-width="5.5"/></svg>
</div>

</body>
</html>
